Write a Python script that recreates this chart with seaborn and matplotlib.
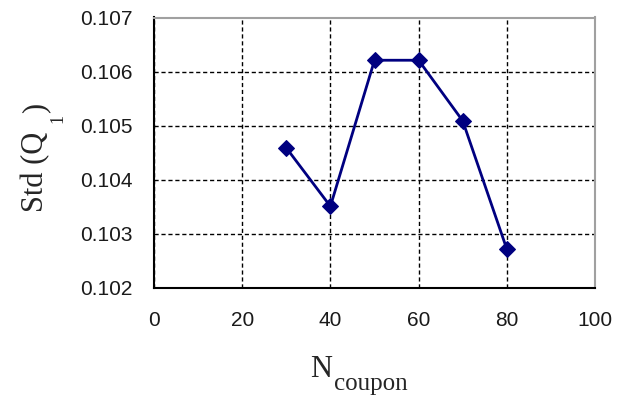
import matplotlib
matplotlib.use("Agg")
import matplotlib.pyplot as plt
import seaborn as sns
import pandas as pd

n_coupon = [30, 40, 50, 60, 70, 80]
std_q1 = [0.10459, 0.10351, 0.10621, 0.10621, 0.10509, 0.10272]
x_ticks = [0, 20, 40, 60, 80, 100]
y_ticks = [0.102, 0.103, 0.104, 0.105, 0.106, 0.107]

sns.set_style("white")
plt.rcParams['font.family'] = ['Liberation Sans', 'DejaVu Sans']

df = pd.DataFrame({"N": n_coupon, "Std": std_q1})

W, H = 625, 395
fig = plt.figure(figsize=(W / 100, H / 100), dpi=100)
ax = fig.add_axes([154 / W, 1 - 288 / H, (595 - 154) / W, (288 - 17.5) / H])

ax.grid(True, color='black', linestyle=(0, (3, 2)), linewidth=1)
ax.set_axisbelow(True)

sns.lineplot(data=df, x="N", y="Std", ax=ax, color='#000080', marker='D',
             markersize=8, markeredgecolor='#000080', linewidth=2)

ax.set_xlim(0, 100)
ax.set_ylim(0.102, 0.107)
ax.set_xticks(x_ticks)
ax.set_yticks(y_ticks)
ax.set_xticklabels([str(v) for v in x_ticks])
ax.set_yticklabels([f"{v:.3f}" for v in y_ticks])
ax.tick_params(axis='both', direction='inout', length=7, width=1.2,
               labelsize=15, colors='black', labelcolor='#1a1a1a')
ax.tick_params(axis='y', pad=12)
ax.tick_params(axis='x', pad=13)

for s in ['left', 'bottom']:
    ax.spines[s].set_color('black')
    ax.spines[s].set_linewidth(1.5)
for s in ['top', 'right']:
    ax.spines[s].set_color('#a0a0a0')
    ax.spines[s].set_linewidth(1.5)

ax.set_xlabel("")
ax.set_ylabel("")

serif = 'Liberation Serif'
# y-axis label: "Std (Q" + lowered subscript "1" + ")"
fig.text(43 / W, 1 - 212 / H, "Std (Q", fontsize=22, family=serif, rotation=90,
         rotation_mode='anchor', ha='left', va='baseline')
fig.text(62 / W, 1 - 123 / H, "1", fontsize=13, family=serif, rotation=90,
         rotation_mode='anchor', ha='left', va='baseline')
fig.text(43 / W, 1 - 113 / H, ")", fontsize=22, family=serif, rotation=90,
         rotation_mode='anchor', ha='left', va='baseline')

# x-axis label: "N" + subscript "coupon"
fig.text(310 / W, 1 - 377 / H, "N", fontsize=22, family=serif,
         ha='left', va='baseline')
fig.text(334 / W, 1 - 390 / H, "coupon", fontsize=18, family=serif,
         ha='left', va='baseline')

fig.savefig("out.png", dpi=100)
